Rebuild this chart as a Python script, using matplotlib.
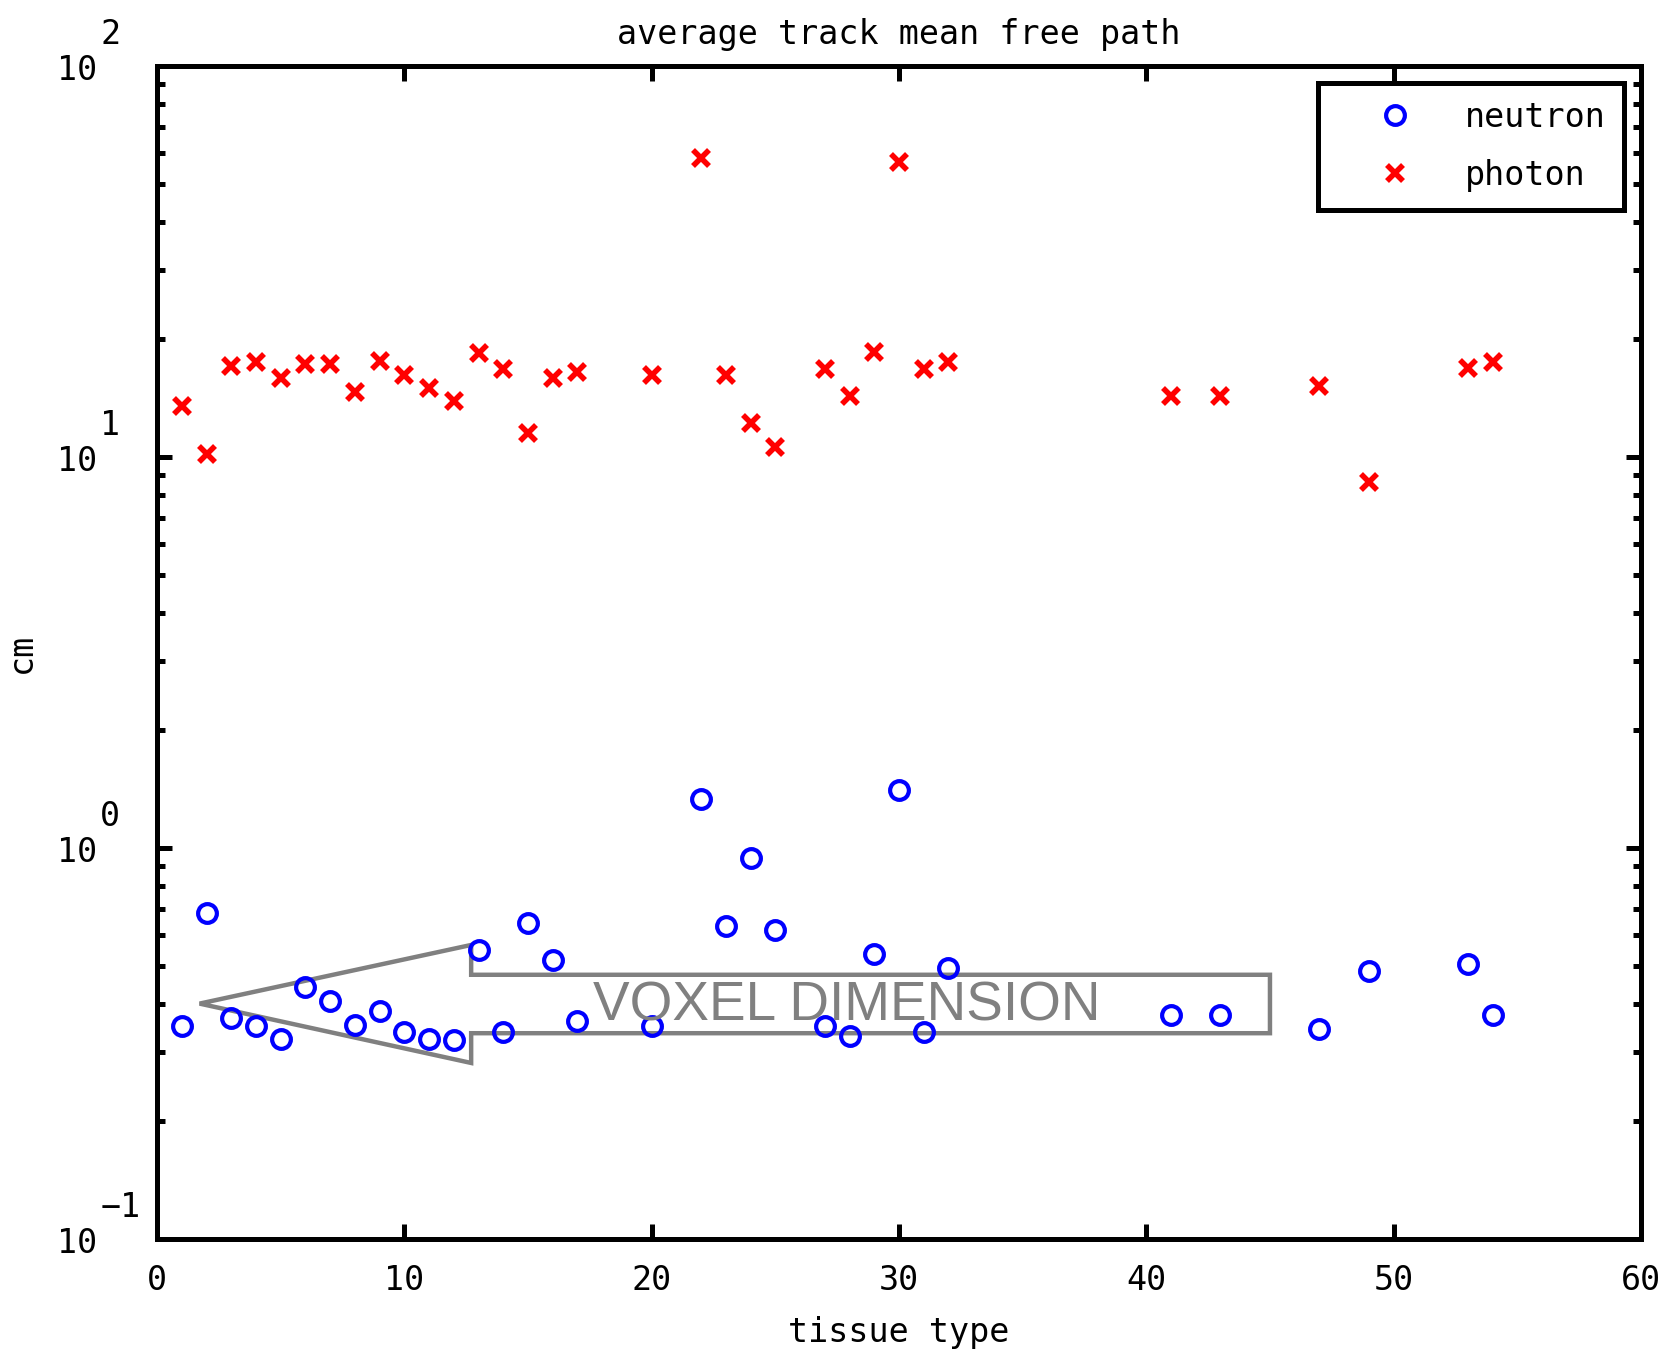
import numpy as np
import matplotlib.pyplot as plt
from matplotlib.patches import Polygon
from matplotlib.ticker import FixedLocator, LogLocator, NullFormatter

# tissue ids that have data
tissue = [1, 2, 3, 4, 5, 6, 7, 8, 9, 10, 11, 12, 13, 14, 15, 16, 17, 20,
          22, 23, 24, 25, 27, 28, 29, 30, 31, 32, 41, 43, 47, 49, 53, 54]

# average track mean free path [cm]
neutron = [0.351, 0.682, 0.367, 0.351, 0.325, 0.44, 0.405, 0.353, 0.383,
           0.338, 0.325, 0.323, 0.547, 0.338, 0.644, 0.518, 0.36, 0.351,
           1.335, 0.633, 0.945, 0.617, 0.351, 0.33, 0.537, 1.41, 0.338,
           0.492, 0.373, 0.373, 0.344, 0.486, 0.505, 0.373]
photon = [13.5, 10.2, 17.1, 17.5, 15.9, 17.3, 17.3, 14.7, 17.6, 16.2, 15.0,
          13.9, 18.4, 16.8, 11.5, 15.9, 16.5, 16.2, 58.3, 16.2, 12.2, 10.6,
          16.8, 14.3, 18.6, 56.9, 16.8, 17.5, 14.3, 14.3, 15.2, 8.65, 16.9,
          17.5]

xticks = [0, 10, 20, 30, 40, 50, 60]
decades = [-1, 0, 1, 2]

mono = 'DejaVu Sans Mono'
fs = 24

fig = plt.figure(figsize=(16.71, 13.55), dpi=100)
ax = fig.add_axes([0.094, 0.0856, 0.888, 0.8657])

ax.plot(tissue, neutron, 'o', mfc='none', mec='#0000ff', ms=13.5, mew=3,
        label='neutron', linestyle='none')
ax.plot(tissue, photon, 'x', color='#ff0000', ms=11, mew=4,
        label='photon', linestyle='none')

ax.set_yscale('log')
ax.set_xlim(0, 60)
ax.set_ylim(0.1, 100)

# arrow annotation pointing at the voxel size
arrow = [(1.72, 0.40), (12.7, 0.565), (12.7, 0.474), (45.0, 0.474),
         (45.0, 0.336), (12.7, 0.336), (12.7, 0.282)]
ax.add_patch(Polygon(arrow, closed=True, fill=False, edgecolor='#808080',
                     linewidth=3.2, zorder=1))
ax.text(27.9, 0.394, 'VOXEL DIMENSION', color='#808080',
        family='Liberation Sans', fontsize=39.5, ha='center', va='center')

for s in ax.spines.values():
    s.set_linewidth(3.6)

ax.xaxis.set_major_locator(FixedLocator(xticks))
ax.set_xticklabels([str(t) for t in xticks], family=mono, fontsize=fs)
ax.yaxis.set_major_locator(FixedLocator([10.0 ** d for d in decades]))
ax.yaxis.set_minor_locator(LogLocator(base=10, subs=np.arange(2, 10)))
ax.yaxis.set_major_formatter(NullFormatter())
ax.yaxis.set_minor_formatter(NullFormatter())
ax.tick_params(which='both', direction='in', top=True, right=True, width=3.6)
ax.tick_params(which='major', length=11)
ax.tick_params(which='minor', length=6)
ax.tick_params(axis='x', pad=18)

# gnuplot-style "10^n" labels
for d in decades:
    ax.annotate('10', xy=(0, 10.0 ** d), xycoords=('axes fraction', 'data'),
                xytext=(-43, -3), textcoords='offset points',
                ha='right', va='center', family=mono, fontsize=fs)
    ax.annotate(str(d).replace('-', '\u2212'), xy=(0, 10.0 ** d),
                xycoords=('axes fraction', 'data'),
                xytext=(-41, 23), textcoords='offset points',
                ha='left', va='center', family=mono, fontsize=fs)

ax.set_title('average track mean free path', family=mono, fontsize=fs, pad=16)
ax.set_xlabel('tissue type', family=mono, fontsize=fs, labelpad=14)
ax.set_ylabel('cm', family=mono, fontsize=fs, labelpad=82)

leg = ax.legend(loc='upper right', prop={'family': mono, 'size': fs},
                fancybox=False, edgecolor='black', framealpha=1,
                handlelength=3.5, handletextpad=0.35, borderpad=0.55,
                labelspacing=0.75, borderaxespad=0.5)
leg.get_frame().set_linewidth(3.6)

plt.savefig('out.png', dpi=100)
